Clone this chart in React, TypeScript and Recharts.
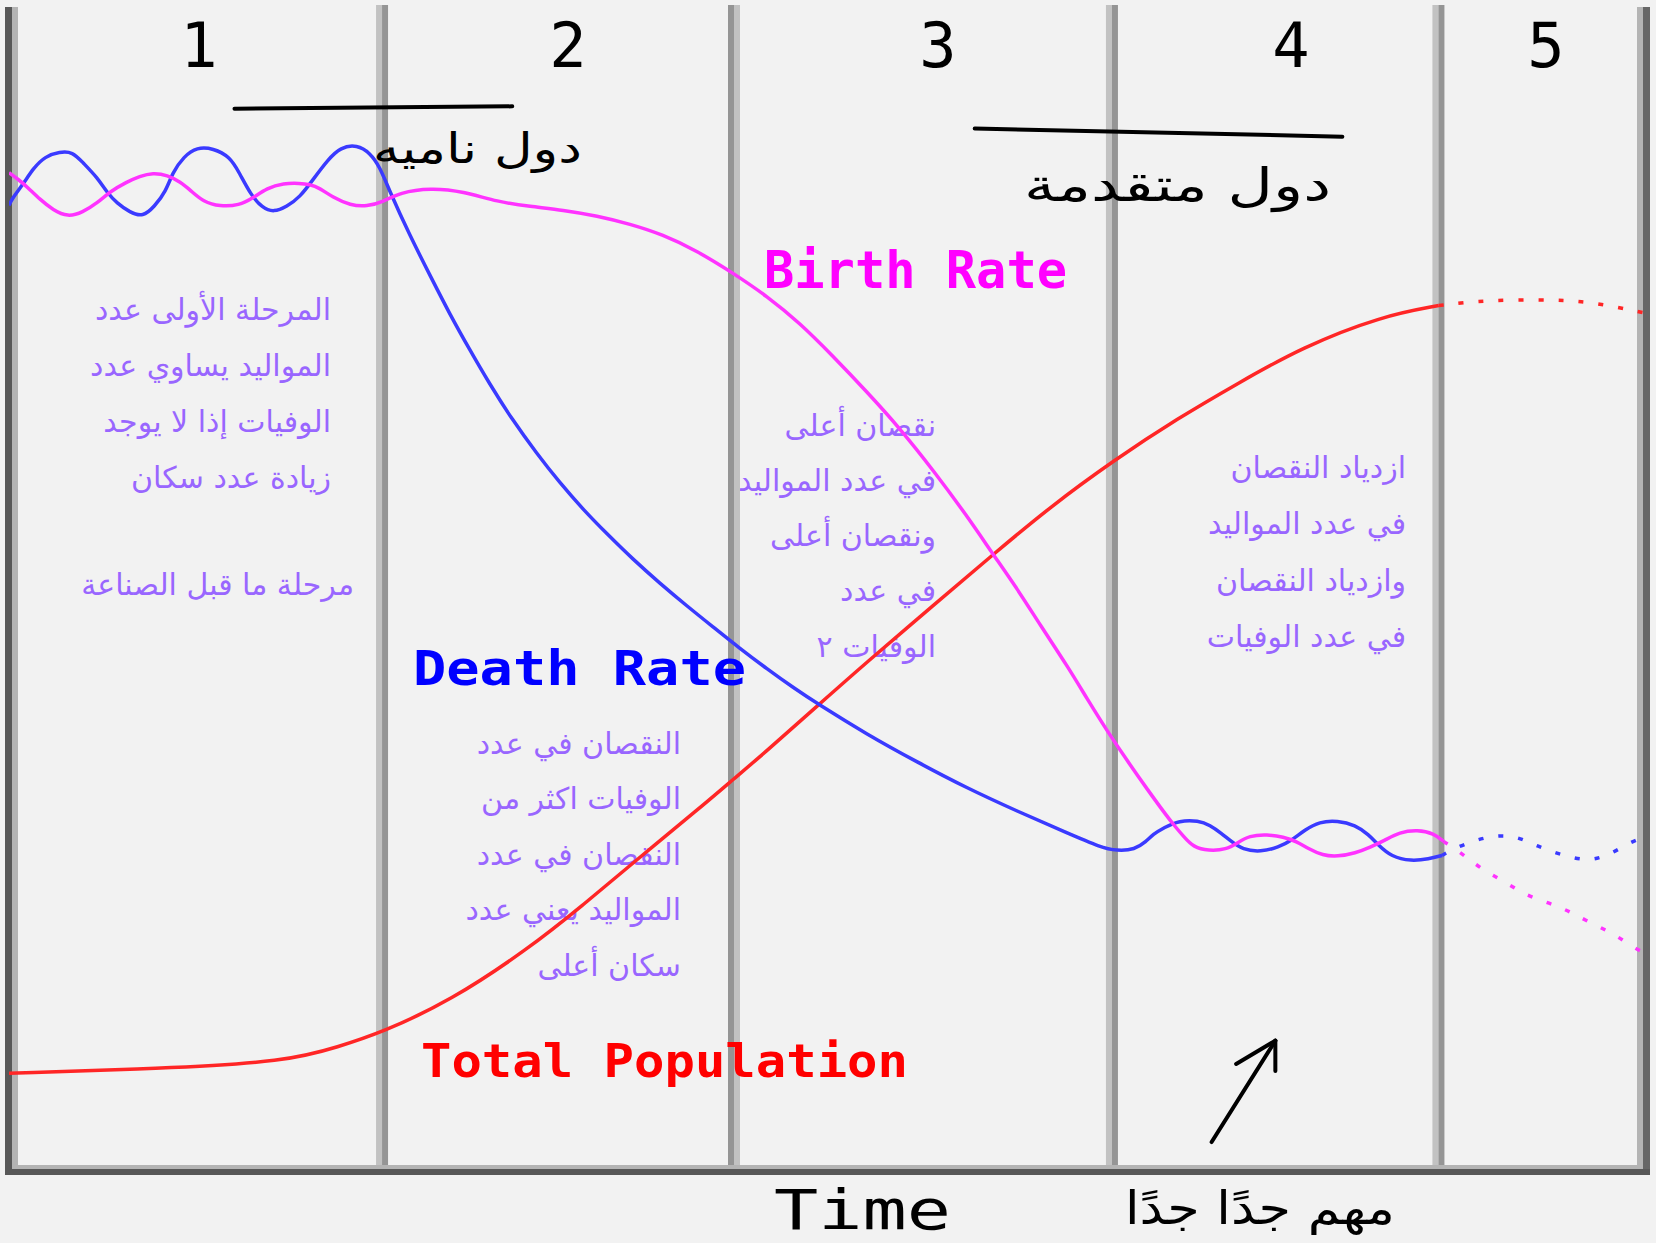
import { LineChart, Line, XAxis, YAxis, ReferenceLine } from 'recharts';

// time runs 0..100 across the five stages, rates/population 0..100 up the frame
const stageBounds = [22.83, 44.37, 67.5, 87.48];
const stageLabels = ['1', '2', '3', '4', '5'];

const birthRate = [
  [0, 85.6], [0.6, 85.0], [1.1, 84.4], [1.9, 83.3], [2.7, 82.4], [3.6, 81.8], [4.5, 82.2], [5.4, 83.0],
  [6.2, 84.0], [7.2, 84.8], [8.0, 85.3], [8.8, 85.6], [9.7, 85.4], [10.5, 84.8], [11.1, 84.1], [11.9, 83.1],
  [12.9, 82.7], [14.1, 82.8], [14.9, 83.4], [15.8, 84.3], [16.8, 84.7], [17.8, 84.7], [18.4, 84.6], [19.0, 84.3],
  [19.8, 83.5], [20.9, 82.8], [21.9, 82.7], [22.9, 83.1], [23.9, 83.9], [25.8, 84.3], [27.8, 84.0], [29.9, 83.1],
  [31.9, 82.7], [33.9, 82.4], [36.0, 81.9], [38.0, 81.2], [40.0, 80.3], [42.1, 78.9], [44.3, 77.0], [46.4, 75.0],
  [48.4, 72.7], [50.4, 69.9], [52.5, 66.8], [54.5, 63.7], [56.6, 60.0], [58.6, 56.2], [60.2, 52.9], [61.7, 49.9],
  [63.1, 46.8], [64.8, 43.2], [66.0, 40.4], [67.2, 37.7], [68.4, 35.2], [69.7, 32.6], [70.9, 30.3], [71.3, 29.6],
  [71.9, 28.6], [72.5, 27.7], [73.4, 27.4], [74.5, 27.5], [75.2, 28.1], [75.9, 28.7], [77.0, 28.8], [78.0, 28.6],
  [78.8, 28.2], [79.5, 27.6], [80.4, 27.0], [81.3, 26.9], [82.4, 27.2], [83.3, 27.7], [84.2, 28.3], [85.1, 29.0],
  [86.2, 29.2], [87.2, 28.9], [87.8, 28.2],
];
const birthRateProjected = [
  [87.8, 28.2], [88.5, 27.6], [89.4, 26.6], [90.4, 25.6], [91.6, 24.7], [92.8, 23.6], [94.3, 22.9],
  [95.5, 22.2], [96.8, 21.2], [98.2, 20.3], [99.4, 19.1], [100, 18.7],
];

const deathRate = [
  [0, 82.8], [0.2, 83.4], [0.9, 84.7], [1.5, 86.0], [2.2, 87.0], [3.1, 87.4], [3.9, 87.4], [4.5, 86.5],
  [5.4, 85.2], [6.0, 83.9], [6.6, 83.0], [7.4, 82.2], [8.2, 81.8], [8.9, 82.7], [9.6, 84.0], [10.0, 85.6],
  [10.7, 87.0], [11.5, 87.8], [12.5, 87.7], [13.5, 87.0], [14.1, 85.6], [14.8, 83.7], [15.5, 82.6], [16.2, 82.2],
  [17.0, 82.7], [17.8, 83.5], [18.6, 85.0], [19.5, 86.7], [20.3, 87.8], [21.3, 88.0], [22.1, 87.3], [22.7, 86.1],
  [23.3, 84.0], [24.5, 80.3], [25.8, 76.7], [27.0, 73.4], [28.2, 70.4], [29.4, 67.5], [30.8, 64.4], [32.3, 61.5],
  [33.7, 59.0], [35.2, 56.6], [36.6, 54.6], [38.2, 52.4], [39.8, 50.4], [41.5, 48.4], [43.1, 46.6], [44.7, 44.8],
  [46.4, 43.0], [48.0, 41.4], [49.5, 40.0], [52.5, 37.4], [55.6, 35.0], [58.6, 32.8], [61.7, 30.8], [64.8, 28.9],
  [66.8, 27.7], [67.8, 27.4], [68.9, 27.5], [69.6, 28.2], [70.0, 28.8], [70.7, 29.4], [71.6, 30.0], [72.8, 30.0],
  [73.5, 29.6], [74.2, 28.9], [74.8, 28.2], [75.5, 27.5], [76.6, 27.3], [77.7, 27.7], [78.5, 28.3], [79.3, 29.2],
  [80.2, 29.9], [81.3, 30.0], [82.4, 29.6], [83.2, 28.8], [83.8, 27.9], [84.6, 26.9], [85.8, 26.5], [86.9, 26.7],
  [87.7, 27.0],
];
const deathRateProjected = [
  [87.7, 27.0], [88.3, 27.5], [89.5, 28.2], [90.8, 28.7], [92.2, 28.7], [93.5, 27.8], [95.1, 27.0],
  [96.6, 26.5], [97.9, 27.0], [99.3, 28.2], [100, 28.5],
];

const totalPopulation = [
  [0, 8.3], [9.2, 8.7], [17.0, 9.3], [20.2, 10.6], [22.8, 11.8], [27.0, 14.5], [31.8, 19.0], [35.1, 22.7],
  [38.3, 26.5], [42.3, 31.1], [44.3, 33.5], [46.4, 36.0], [49.2, 39.5], [52.5, 43.6], [56.6, 48.5], [60.2, 52.8],
  [63.7, 56.9], [67.6, 60.9], [71.5, 64.5], [75.3, 67.6], [79.1, 70.6], [84.0, 73.3], [87.5, 74.2],
];
const totalPopulationProjected = [[87.5, 74.2], [90.5, 74.7], [94.7, 74.7], [96.9, 74.5], [100, 73.6]];

// hand-drawn marks (time, level)
const underlineDeveloping = [[13.8, 91.1], [30.8, 91.3]];
const underlineDeveloped = [[59.1, 89.4], [81.6, 88.7]];
const arrowStrokes = [
  [[73.6, 2.4], [77.5, 11.1]],
  [[75.1, 9.1], [77.5, 11.1]],
  [[77.5, 8.5], [77.5, 11.1]],
];

const stage1Notes = ['المرحلة الأولى عدد', 'المواليد يساوي عدد', 'الوفيات إذا لا يوجد', 'زيادة عدد سكان'];
const stage1Footer = 'مرحلة ما قبل الصناعة';
const stage2Notes = ['النقصان في عدد', 'الوفيات اكثر من', 'النقصان في عدد', 'المواليد يعني عدد', 'سكان أعلى'];
const stage3Notes = ['نقصان أعلى', 'في عدد المواليد', 'ونقصان أعلى', 'في عدد', 'الوفيات ٢'];
const stage4Notes = ['ازدياد النقصان', 'في عدد المواليد', 'وازدياد النقصان', 'في عدد الوفيات'];

const W = 1656;
const H = 1243;
const BG = '#f2f2f2';
const NOTE = '#9966ff';
const LIGHT = '#c2c2c2';
const DARK = '#959595';

const toPts = (rows: number[][]) => rows.map(([t, v]) => ({ t, v }));
const seg = (rows: number[][]) => rows.map(([x, y]) => ({ x, y }));

const vSpan = (p: any) => ({ top: Math.min(p.y1, p.y2), h: Math.abs(p.y2 - p.y1) });

const leftAxis = (p: any) => {
  const { top, h } = vSpan(p);
  return (
    <g>
      <rect x={p.x1 - 4} y={top + 2} width={7} height={h + 3} fill="#585858" />
      <rect x={p.x1 + 3} y={top + 2} width={6} height={h - 2} fill="#b4b4b4" />
    </g>
  );
};
const rightAxis = (p: any) => {
  const { top, h } = vSpan(p);
  return (
    <g>
      <rect x={p.x1 - 6} y={top + 2} width={6} height={h - 2} fill="#b4b4b4" />
      <rect x={p.x1} y={top + 2} width={7} height={h + 3} fill="#666" />
    </g>
  );
};
const divider = (darkFirst: boolean) => (p: any) => {
  const { top, h } = vSpan(p);
  return (
    <g>
      <rect x={p.x1 - 6} y={top} width={6} height={h} fill={darkFirst ? DARK : LIGHT} />
      <rect x={p.x1} y={top} width={6} height={h} fill={darkFirst ? LIGHT : DARK} />
    </g>
  );
};
const bottomAxis = (p: any) => {
  const l = Math.min(p.x1, p.x2);
  const w = Math.abs(p.x2 - p.x1);
  return (
    <g>
      <rect x={l + 3} y={p.y1 - 5} width={w - 3} height={4} fill="#b4b4b4" />
      <rect x={l - 4} y={p.y1 - 1} width={w + 11} height={6} fill="#585858" />
    </g>
  );
};

const noteFont = { fontFamily: 'DejaVu Sans', fontSize: 30, fill: NOTE };

function NoteBlock({ lines, right, top, step }: { lines: string[]; right: number; top: number; step: number }) {
  return (
    <>
      {lines.map((s, i) => (
        <text key={i} x={right} y={top + i * step} textAnchor="end" dominantBaseline="central" {...noteFont}>
          {s}
        </text>
      ))}
    </>
  );
}

function Scribble({ text, right, y, width, size }: { text: string; right: number; y: number; width: number; size: number }) {
  return (
    <text x={right - width} y={y} dominantBaseline="central" fontFamily="DejaVu Sans" fontSize={size} fill="#000"
      textLength={width} lengthAdjust="spacingAndGlyphs">
      {text}
    </text>
  );
}

// purple notes sit under the curves
function Notes() {
  return (
    <svg width={W} height={H} style={{ position: 'absolute', left: 0, top: 0 }}>
      <NoteBlock lines={stage1Notes} right={331} top={309} step={56.3} />
      <text x={354} y={584} textAnchor="end" dominantBaseline="central" {...noteFont}>
        {stage1Footer}
      </text>
      <NoteBlock lines={stage2Notes} right={681} top={743} step={55.5} />
      <NoteBlock lines={stage3Notes} right={936} top={425} step={55.3} />
      <NoteBlock lines={stage4Notes} right={1406} top={467} step={56.5} />
    </svg>
  );
}

// stage numbers, series names and handwriting sit above everything
function Labels() {
  const stageX = [199, 568, 938, 1291, 1546];
  return (
    <svg width={W} height={H} style={{ position: 'absolute', left: 0, top: 0, pointerEvents: 'none' }}>
      {stageLabels.map((s, i) => (
        <text key={s} x={stageX[i]} y={67} textAnchor="middle" fontFamily="DejaVu Sans Mono" fontSize={62} fill="#000">
          {s}
        </text>
      ))}
      <text x={764} y={288} fontFamily="DejaVu Sans Mono" fontWeight="bold" fontSize={51} fill="#ff00ff"
        textLength={303} lengthAdjust="spacingAndGlyphs">Birth Rate</text>
      <text x={413} y={685} fontFamily="DejaVu Sans Mono" fontWeight="bold" fontSize={48} fill="#0000ff"
        textLength={333} lengthAdjust="spacingAndGlyphs">Death Rate</text>
      <text x={421} y={1077} fontFamily="DejaVu Sans Mono" fontWeight="bold" fontSize={47} fill="#ff0000"
        textLength={487} lengthAdjust="spacingAndGlyphs">Total Population</text>
      <text x={774} y={1229} fontFamily="DejaVu Sans Mono" fontSize={55} fill="#000"
        textLength={177} lengthAdjust="spacingAndGlyphs">Time</text>

      <Scribble text="دول ناميه" right={582} y={148} width={209} size={42} />
      <Scribble text="دول متقدمة" right={1331} y={185} width={307} size={46} />
      <Scribble text="مهم جدًا جدًا" right={1395} y={1208} width={270} size={46} />
    </svg>
  );
}

export default function App() {
  return (
    <div style={{ position: 'absolute', left: 0, top: 0, width: W, height: H, background: BG, overflow: 'hidden' }}>
      <Notes />
      <div style={{ position: 'absolute', left: 0, top: 0 }}>
        <LineChart width={W} height={H} margin={{ top: 5, right: 13, bottom: 73, left: 9 }}>
          <XAxis type="number" dataKey="t" domain={[0, 100]} hide allowDataOverflow />
          <YAxis type="number" dataKey="v" domain={[0, 100]} hide allowDataOverflow />

          {stageBounds.map((b, i) => (
            <ReferenceLine key={b} x={b} stroke={DARK} shape={divider(i === 1)} />
          ))}
          <ReferenceLine x={0} stroke="#585858" shape={leftAxis} />
          <ReferenceLine x={100} stroke="#666" shape={rightAxis} />
          <ReferenceLine y={0} stroke="#585858" shape={bottomAxis} />

          <ReferenceLine segment={seg(underlineDeveloping)} stroke="#000" strokeWidth={4} strokeLinecap="round" />
          <ReferenceLine segment={seg(underlineDeveloped)} stroke="#000" strokeWidth={4} strokeLinecap="round" />
          {arrowStrokes.map((a, i) => (
            <ReferenceLine key={i} segment={seg(a)} stroke="#000" strokeWidth={4} strokeLinecap="round" />
          ))}

          <Line data={toPts(totalPopulation)} dataKey="v" type="basis" stroke="#ff2626" strokeWidth={3.5}
            dot={false} isAnimationActive={false} />
          <Line data={toPts(totalPopulationProjected)} dataKey="v" type="basis" stroke="#ff2626" strokeWidth={3.5}
            strokeDasharray="5 15" dot={false} isAnimationActive={false} />
          <Line data={toPts(deathRate)} dataKey="v" type="basis" stroke="#3a3aff" strokeWidth={3.5}
            dot={false} isAnimationActive={false} />
          <Line data={toPts(deathRateProjected)} dataKey="v" type="basis" stroke="#3a3aff" strokeWidth={3.5}
            strokeDasharray="5 15" dot={false} isAnimationActive={false} />
          <Line data={toPts(birthRate)} dataKey="v" type="basis" stroke="#ff33ff" strokeWidth={3.5}
            dot={false} isAnimationActive={false} />
          <Line data={toPts(birthRateProjected)} dataKey="v" type="basis" stroke="#ff33ff" strokeWidth={3.5}
            strokeDasharray="5 15" dot={false} isAnimationActive={false} />
        </LineChart>
      </div>
      <Labels />
    </div>
  );
}
